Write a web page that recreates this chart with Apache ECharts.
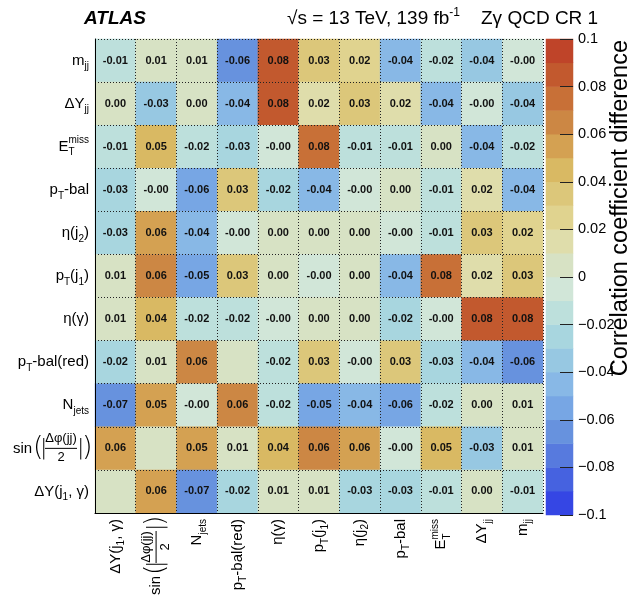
<!DOCTYPE html>
<html><head><meta charset="utf-8">
<script src="https://cdn.jsdelivr.net/npm/echarts@6/dist/echarts.min.js"></script>
<style>html,body{margin:0;padding:0;background:#fff;}#c{width:635px;height:598px;}</style>
</head><body><div id="c"></div>
<script>
// Row categories, top to bottom
const rowCategories = ['m_jj','ΔY_jj','E_T^miss','p_T-bal','η(j_2)','p_T(j_1)','η(γ)','p_T-bal(red)','N_jets','sin(|Δφ(jj)/2|)','ΔY(j_1, γ)'];
// Column categories, left to right
const colCategories = ['ΔY(j_1, γ)','sin(|Δφ(jj)/2|)','N_jets','p_T-bal(red)','η(γ)','p_T(j_1)','η(j_2)','p_T-bal','E_T^miss','ΔY_jj','m_jj'];

// Values per row (columns in colCategories order); 0 = empty cell (no text)
const row_mjj      = [-0.011, 0.008, 0.007,-0.062, 0.082, 0.032, 0.022,-0.042,-0.016,-0.036,-0.002];
const row_dYjj     = [ 0.003,-0.031, 0.002,-0.041, 0.081, 0.019, 0.031, 0.018,-0.042,-0.003,-0.038];
const row_met      = [-0.012, 0.048,-0.018,-0.027,-0.003, 0.078,-0.011,-0.011, 0.002,-0.043,-0.018];
const row_ptbal    = [-0.028,-0.003,-0.058, 0.031,-0.021,-0.042,-0.002, 0.002,-0.012, 0.018,-0.043];
const row_etaj2    = [-0.028, 0.058,-0.042,-0.003, 0.003, 0.002, 0.001,-0.002,-0.011, 0.032, 0.022];
const row_ptj1     = [ 0.008, 0.063,-0.052, 0.032, 0.002,-0.002, 0.003,-0.042, 0.078, 0.019, 0.031];
const row_etagam   = [ 0.007, 0.041,-0.018,-0.017,-0.002, 0.002, 0.001,-0.021,-0.003, 0.081, 0.083];
const row_ptbalred = [-0.021, 0.007, 0.062, 0,    -0.017, 0.032,-0.003, 0.031,-0.028,-0.041,-0.062];
const row_njets    = [-0.066, 0.052,-0.002, 0.062,-0.017,-0.052,-0.043,-0.058,-0.017, 0.002, 0.007];
const row_sindphi  = [ 0.058, 0,     0.052, 0.007, 0.041, 0.063, 0.058,-0.003, 0.048,-0.031, 0.008];
const row_dYj1g    = [ 0,     0.058,-0.066,-0.021, 0.007, 0.008,-0.028,-0.028,-0.012, 0.003,-0.011];
const rows = [row_mjj,row_dYjj,row_met,row_ptbal,row_etaj2,row_ptj1,row_etagam,row_ptbalred,row_njets,row_sindphi,row_dYj1g];

// Colour scale: 20 bins from -0.1 to 0.1
const scaleMin = -0.1, scaleMax = 0.1, nBins = 20;
const paletteColors = ['#3546e4','#4662e0','#577ade','#6792de','#77a6e4','#88b8e6','#97c8e2','#a8d6df','#bde0dc','#d1e6d8',
                       '#d7e2c4','#dfddab','#e0d38f','#dcc77a','#d9b963','#d4a152','#cc8744','#c87037','#c2592e','#bf4429'];

const FONT = 'Liberation Sans, Arial, Helvetica, sans-serif';
const THIN = 'DejaVu Sans, Liberation Sans, sans-serif';

const labelMarkup = {
  'm_jj': '{n|m}{s|jj}',
  'ΔY_jj': '{n|ΔY}{s|jj}',
  'E_T^miss': '{n|E}{s0|T}{p|miss}',
  'p_T-bal': '{n|p}{s|T}{n|-bal}',
  'η(j_2)': '{n|η(j}{s|2}{n|)}',
  'p_T(j_1)': '{n|p}{s|T}{n|(j}{s|1}{n|)}',
  'η(γ)': '{n|η(γ)}',
  'p_T-bal(red)': '{n|p}{s|T}{n|-bal(red)}',
  'N_jets': '{n|N}{s|jets}',
  'sin(|Δφ(jj)/2|)': '{pl| }{num|Δφ(jj)}{pr| }\n{sin|sin}{bp|(}{bv||}{bar| }{bv||}{bp|)}\n{pl| }{den|2}{pr| }',
  'ΔY(j_1, γ)': '{n|ΔY(j}{s|1}{n|, γ)}'
};
const rich = {
  n:   {fontSize: 15, lineHeight: 22, align: 'left', color: '#000', fontFamily: FONT},
  s:   {fontSize: 10, lineHeight: 22, align: 'left', verticalAlign: 'bottom', color: '#000', fontFamily: FONT},
  s0:  {fontSize: 10, lineHeight: 22, align: 'left', verticalAlign: 'bottom', width: 0, color: '#000', fontFamily: FONT},
  p:   {fontSize: 10, lineHeight: 22, align: 'left', verticalAlign: 'top', color: '#000', fontFamily: FONT},
  pl:  {fontSize: 12, lineHeight: 14, width: 32, align: 'left'},
  pr:  {fontSize: 12, lineHeight: 14, width: 12, align: 'left'},
  num: {fontSize: 13, lineHeight: 14, width: 32, align: 'center', color: '#000', fontFamily: FONT},
  den: {fontSize: 13, lineHeight: 14, width: 32, align: 'center', color: '#000', fontFamily: FONT},
  sin: {fontSize: 15, lineHeight: 5, width: 20, align: 'left', color: '#000', fontFamily: FONT},
  bp:  {fontSize: 27, lineHeight: 5, width: 7, align: 'left', color: '#000', fontFamily: THIN, fontWeight: 200},
  bv:  {fontSize: 22, lineHeight: 5, width: 5, align: 'left', color: '#000', fontFamily: THIN, fontWeight: 200},
  bar: {fontSize: 1, lineHeight: 5, height: 1, width: 32, align: 'left', backgroundColor: '#000'}
};

const heatData = [];
rows.forEach((r, ri) => r.forEach((v, ci) => heatData.push([ci, ri, v])));

const pieces = paletteColors.map((c, i) => ({
  gte: +(scaleMin + i * (scaleMax - scaleMin) / nBins).toFixed(3),
  lt: +(scaleMin + (i + 1) * (scaleMax - scaleMin) / nBins).toFixed(3) + (i === nBins - 1 ? 1e-9 : 0),
  color: c
}));
const binCats = paletteColors.map((c, i) => String(i));
const binData = paletteColors.map((c, i) => [0, i, +(scaleMin + (i + 0.5) * (scaleMax - scaleMin) / nBins).toFixed(4)]);

function fmtTick(v) {
  const r = Math.round(v * 100) / 100;
  if (Math.abs(r) < 1e-9) return '0';
  const s = String(Math.abs(r));
  return (r < 0 ? '\u2212' : '') + s;
}

const chart = echarts.init(document.getElementById('c'), null, {renderer: 'canvas'});
const option = {
  animation: false,
  backgroundColor: '#fff',
  textStyle: {fontFamily: FONT},
  grid: [
    {left: 95, top: 39, width: 448, height: 476},
    {left: 546, top: 39, width: 27, height: 476}
  ],
  xAxis: [
    {type: 'category', gridIndex: 0, data: colCategories, position: 'bottom', z: 5,
     axisLine: {lineStyle: {color: '#000', width: 1}},
     axisTick: {inside: true, length: 7, lineStyle: {color: '#000'}},
     splitLine: {show: true, lineStyle: {color: '#222', type: [1, 2], width: 1}},
     axisLabel: {interval: 0, rotate: 90, margin: 6, color: '#000', formatter: v => labelMarkup[v], rich: rich}},
    {type: 'category', gridIndex: 1, data: ['cb'], show: false}
  ],
  yAxis: [
    {type: 'category', gridIndex: 0, data: rowCategories, inverse: true, z: 5,
     axisLine: {lineStyle: {color: '#000', width: 1}},
     axisTick: {inside: true, length: 10, lineStyle: {color: '#000'}},
     splitLine: {show: true, lineStyle: {color: '#222', type: [1, 2], width: 1}},
     axisLabel: {interval: 0, margin: 6, color: '#000', formatter: v => labelMarkup[v], rich: rich}},
    {type: 'category', gridIndex: 1, data: binCats, show: false},
    {type: 'value', gridIndex: 1, position: 'right', min: -0.1, max: 0.1, interval: 0.02, z: 5,
     axisLine: {show: false},
     axisTick: {show: true, inside: true, length: 13, lineStyle: {color: '#222'}},
     splitLine: {show: false},
     axisLabel: {show: true, showMinLabel: true, showMaxLabel: true, margin: 5, fontSize: 14.5, color: '#000', formatter: fmtTick}}
  ],
  visualMap: {type: 'piecewise', show: false, dimension: 2, seriesIndex: [0, 1], pieces: pieces},
  series: [
    {type: 'heatmap', xAxisIndex: 0, yAxisIndex: 0, data: heatData, z: 2,
     itemStyle: {borderWidth: 0},
     label: {show: true, fontSize: 11, fontWeight: 'bold', color: '#111', fontFamily: FONT,
             formatter: p => (p.value[2] === 0 ? '' : p.value[2].toFixed(2))}},
    {type: 'heatmap', xAxisIndex: 1, yAxisIndex: 1, data: binData, itemStyle: {borderWidth: 0}, label: {show: false}}
  ],
  graphic: [
    {type: 'text', x: 84, y: 19, style: {text: 'ATLAS', font: 'italic bold 19px ' + FONT, fill: '#000', verticalAlign: 'middle'}},
    {type: 'text', x: 287, y: 19, style: {text: '{a|√s = 13 TeV, 139 fb}{b|-1}', verticalAlign: 'middle', fill: '#000',
      rich: {a: {fontSize: 19, fontFamily: FONT, lineHeight: 24, fill: '#000'}, b: {fontSize: 12, fontFamily: FONT, lineHeight: 24, verticalAlign: 'top', fill: '#000'}}}},
    {type: 'text', x: 481, y: 19, style: {text: 'Zγ QCD CR 1', font: '19px ' + FONT, fill: '#000', verticalAlign: 'middle'}},
    {type: 'text', x: 621, y: 40, rotation: Math.PI / 2, style: {text: 'Correlation coefficient difference', font: '23.5px ' + FONT, fill: '#000', align: 'right', verticalAlign: 'middle'}}
  ]
};
chart.setOption(option);
</script>
</body></html>
